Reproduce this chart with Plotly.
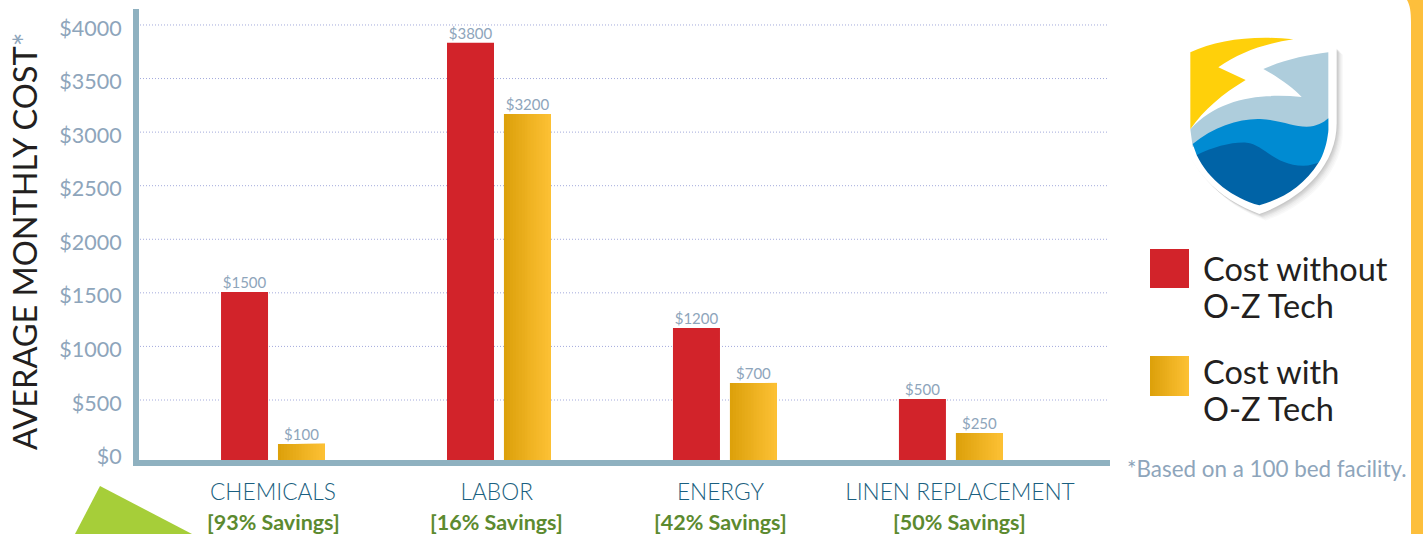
import plotly.graph_objects as go

W, H = 1423, 534

# ---------- data ----------
categories = ["CHEMICALS", "LABOR", "ENERGY", "LINEN REPLACEMENT"]
savings = ["[93% Savings]", "[16% Savings]", "[42% Savings]", "[50% Savings]"]
group_pos = [0, 1, 2, 3]
label_pos = [0, 0.99, 1.98, 3.04]
without_labels = [1500, 3800, 1200, 500]
with_labels = [100, 3200, 700, 250]
# bar tops as they are drawn in the picture
without_drawn = [1508, 3833, 1172, 510]
with_drawn = [90, 3170, 659, 192]
y_ticks = [0, 500, 1000, 1500, 2000, 2500, 3000, 3500, 4000]

FONT = "Lato"
RED = "#d2232a"
GOLD_L = (220, 160, 10)
GOLD_R = (253, 193, 53)
AXIS = "#8fb1c0"
GREY_BLUE = "#8ea5bb"
TEAL = "#1a5f80"
GREEN = "#5c8a2f"
DARK = "#231f20"

def gold(t):
    return "rgb(%d,%d,%d)" % tuple(round(a + (b - a) * t) for a, b in zip(GOLD_L, GOLD_R))

BASE = -60
BAR_W = 0.208
GAP = 0.022
STEPS = 16

fig = go.Figure()

fig.add_trace(go.Bar(
    x=group_pos, y=[v - BASE for v in without_drawn], base=BASE,
    width=BAR_W, offset=-BAR_W - GAP, marker=dict(color=RED, line_width=0),
    name="Cost without O-Z Tech", showlegend=False, hoverinfo="skip"))

for i in range(STEPS):
    t = i / STEPS
    fig.add_trace(go.Bar(
        x=group_pos, y=[v - BASE for v in with_drawn], base=BASE,
        width=BAR_W * (1 - t), offset=GAP + BAR_W * t,
        marker=dict(color=gold((i + .5) / STEPS), line_width=0),
        showlegend=False, hoverinfo="skip"))

label_font = dict(family=FONT, size=15, color=GREY_BLUE, weight=400)
fig.add_trace(go.Scatter(
    x=[p - BAR_W / 2 - GAP for p in group_pos], y=without_drawn, mode="text",
    text=["$%d" % v for v in without_labels], textposition="top center",
    textfont=label_font, showlegend=False, hoverinfo="skip", cliponaxis=False))
fig.add_trace(go.Scatter(
    x=[p + BAR_W / 2 + GAP for p in group_pos], y=with_drawn, mode="text",
    text=["$%d" % v for v in with_labels], textposition="top center",
    textfont=label_font, showlegend=False, hoverinfo="skip", cliponaxis=False))

# ---------- pixel helpers for decoration ----------
def px(x): return x / W
def py(y): return 1 - y / H

def zpath(cmds, ox=1120, oy=0, dx=0, dy=0):
    """cmds: list of (letter, numbers...) in 3x-zoomed logo coordinates."""
    out = []
    for c in cmds:
        pts = c[1:]
        s = c[0]
        for k in range(0, len(pts), 2):
            s += " %.5f,%.5f" % (px(ox + (pts[k] + dx) / 3), py(oy + (pts[k + 1] + dy) / 3))
        out.append(s)
    return " ".join(out) + " Z"

def poly(color, cmds, opacity=1, dx=0, dy=0):
    return dict(type="path", xref="paper", yref="paper", path=zpath(cmds, dx=dx, dy=dy),
                fillcolor=color, opacity=opacity, line_width=0, layer="above")

def rect(x0, y0, x1, y1, color):
    return dict(type="rect", xref="paper", yref="paper", x0=px(x0), x1=px(x1), y0=py(y1), y1=py(y0),
                fillcolor=color, line_width=0, layer="above")

shield = [("M", 187, 145), ("C", 260, 105, 340, 85, 418, 85), ("C", 500, 85, 580, 105, 650, 145),
          ("L", 650, 370), ("C", 650, 500, 540, 600, 418, 642), ("C", 300, 600, 187, 500, 187, 370)]
yellow = [("M", 211, 157), ("C", 290, 120, 400, 105, 520, 118), ("C", 440, 130, 360, 155, 295, 202),
          ("L", 377, 240), ("C", 310, 280, 250, 330, 211, 388)]
light = [("M", 430, 207), ("C", 490, 180, 560, 165, 625, 157), ("L", 625, 400), ("L", 218, 440),
         ("L", 211, 388), ("C", 300, 290, 430, 280, 545, 291), ("C", 520, 265, 480, 235, 430, 207)]
mid = [("M", 218, 432), ("C", 280, 380, 360, 355, 420, 357), ("C", 480, 360, 520, 380, 560, 380),
       ("C", 590, 380, 610, 368, 625, 355), ("L", 625, 390), ("C", 622, 430, 610, 465, 597, 486),
       ("L", 420, 600), ("L", 230, 465)]
deep = [("M", 230, 465), ("C", 280, 440, 340, 425, 380, 428), ("C", 430, 432, 460, 495, 550, 497),
        ("C", 570, 497, 585, 492, 597, 486), ("C", 550, 560, 490, 595, 418, 616),
        ("C", 340, 595, 265, 540, 230, 465)]

shapes = []
# dotted gridlines, one per labelled level above zero
for v in y_ticks:
    if v > 0:
        shapes.append(dict(type="line", xref="paper", yref="y", x0=px(140), x1=px(1108), y0=v, y1=v,
                           line=dict(color="#a3aadc", width=1, dash="1px,2px"), layer="below"))
# outer gold frame on the right
shapes.append(dict(type="path", xref="paper", yref="paper", layer="above", line_width=0, fillcolor="#fdbf3c",
    path="M %.5f,%.5f C %.5f,%.5f %.5f,%.5f %.5f,%.5f L %.5f,%.5f L %.5f,%.5f L %.5f,%.5f Z" % (
        px(1407), py(0), px(1410), py(5), px(1411), py(12), px(1411), py(22),
        px(1411), py(534), px(W), py(534), px(W), py(0))))
# green triangle
shapes.append(dict(type="path", xref="paper", yref="paper", layer="above", line_width=0, fillcolor="#a6ce39",
    path="M %.5f,%.5f L %.5f,%.5f L %.5f,%.5f Z" % (px(100), py(486), px(192), py(534), px(75), py(534))))
# logo
for off, op in [(3, .05), (6, .05), (9, .05), (12, .05), (16, .04), (20, .03), (24, .03)]:
    shapes.append(poly("#444444", shield, op, dx=off * .8, dy=off * .8))
shapes.append(poly("#ffffff", shield))
shapes.append(poly("#ffd00a", yellow))
shapes.append(poly("#aecddc", light))
shapes.append(poly("#008bd2", mid))
shapes.append(poly("#0063a6", deep))
# legend swatches
shapes.append(rect(1150, 249, 1189, 288, RED))
for i in range(STEPS):
    shapes.append(rect(1150 + 39 * i / STEPS, 356, 1189, 396, gold((i + .5) / STEPS)))

def txt(x, y, text, size, color, anchor="left", angle=0, weight=400, xref="paper"):
    return dict(xref=xref, yref="paper", x=px(x) if xref == "paper" else x, y=py(y), text=text, showarrow=False,
                xanchor=anchor, yanchor="middle", textangle=angle,
                font=dict(family=FONT, size=size, color=color, weight=weight))

annotations = [
    txt(1201, 268, "Cost without", 32.5, DARK),
    txt(1201, 305, "O-Z Tech", 32.5, DARK),
    txt(1201, 371, "Cost with", 32.5, DARK),
    txt(1201, 408, "O-Z Tech", 32.5, DARK),
    txt(1125, 468, "*Based on a 100 bed facility.", 22.4, GREY_BLUE),
    txt(24, 242, 'AVERAGE MONTHLY COST<span style="color:%s">*</span>' % GREY_BLUE, 32.5, DARK,
        anchor="center", angle=-90),
]
for p, s in zip(label_pos, savings):
    annotations.append(txt(p, 521.5, s, 21.5, GREEN, anchor="center", weight=700, xref="x"))

fig.update_layout(
    width=W, height=H, autosize=False,
    margin=dict(l=0, r=0, t=0, b=0, pad=0),
    paper_bgcolor="white", plot_bgcolor="rgba(0,0,0,0)",
    barmode="overlay", showlegend=False,
    shapes=shapes, annotations=annotations,
    xaxis=dict(domain=[139 / W, 1110 / W], range=[-0.593, 3.704], tickmode="array",
               tickvals=label_pos, ticktext=categories, showgrid=False, zeroline=False,
               showline=True, linewidth=6, linecolor=AXIS, ticks="outside", ticklen=7,
               tickcolor="rgba(0,0,0,0)", tickfont=dict(family=FONT, size=22.7, color=TEAL, weight=300),
               tickangle=0, automargin=False),
    yaxis=dict(domain=[(H - 460) / H, (H - 9) / H], range=[BASE, 4149], tickmode="array",
               tickvals=y_ticks, ticktext=["$%d" % v for v in y_ticks], showgrid=False,
               zeroline=False, ticklabelshift=3,
               showline=True, linewidth=6, linecolor=AXIS, ticks="outside", ticklen=7,
               tickcolor="rgba(0,0,0,0)", tickfont=dict(family=FONT, size=21.5, color=GREY_BLUE, weight=400),
               automargin=False),
)

fig.write_html("out.html", config={"displayModeBar": False}, post_script="document.body.style.margin='0';")
